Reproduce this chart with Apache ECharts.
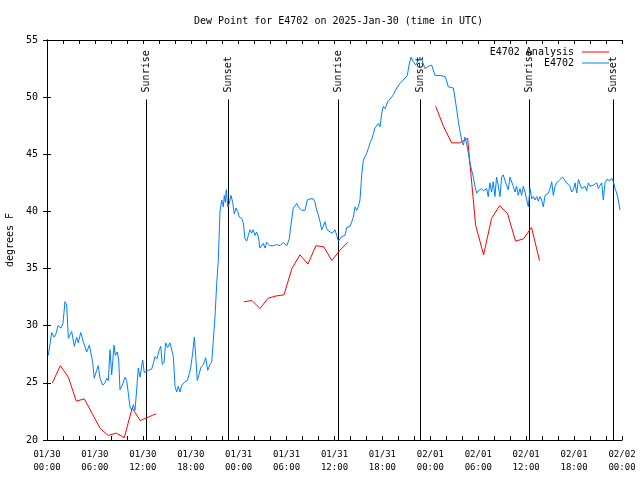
<!DOCTYPE html>
<html><head><meta charset="utf-8">
<script src="https://cdn.jsdelivr.net/npm/echarts@6/dist/echarts.min.js"></script>
<style>html,body{margin:0;padding:0;background:#fff}#c{width:640px;height:480px}</style>
</head><body><div id="c"></div>
<script>
const titleText = 'Dew Point for E4702 on 2025-Jan-30 (time in UTC)';
const yAxisName = 'degrees F';
const xTickDates = ['01/30','01/30','01/30','01/30','01/31','01/31','01/31','01/31','02/01','02/01','02/01','02/01','02/02'];
const xTickTimes = ['00:00','06:00','12:00','18:00','00:00','06:00','12:00','18:00','00:00','06:00','12:00','18:00','00:00'];
const sunNames = ['Sunrise','Sunset','Sunrise','Sunset','Sunrise','Sunset'];
const sunHours = [12.45, 22.68, 36.46, 46.71, 60.38, 70.82];

// E4702 Analysis (hourly, three segments)
const analysisStarts = [0.67, 24.67, 48.67];
const analysisSeg1 = [25.0, 26.5, 25.5, 23.4, 23.6, 22.3, 21.0, 20.4, 20.6, 20.2, 22.8, 21.7, 22.0, 22.3];
const analysisSeg2 = [32.1, 32.2, 31.5, 32.4, 32.6, 32.7, 35.0, 36.2, 35.4, 37.0, 36.9, 35.7, 36.6, 37.3];
const analysisSeg3 = [49.2, 47.4, 46.0, 46.0, 46.4, 38.8, 36.2, 39.4, 40.5, 39.8, 37.4, 37.6, 38.6, 35.7];

// E4702 observations (hours since 01/30 00:00 UTC)
const obsHours = [0.16,0.59,0.88,1.13,1.38,1.75,2.00,2.25,2.47,2.67,2.88,3.09,3.42,3.72,3.92,4.22,4.55,4.97,5.30,5.51,5.72,5.92,6.22,6.42,6.64,6.97,7.26,7.48,7.68,7.89,8.10,8.39,8.55,8.80,8.98,9.14,9.43,9.77,9.98,10.18,10.39,10.61,10.81,11.02,11.23,11.43,11.65,11.98,12.18,12.40,12.68,13.11,13.31,13.52,13.77,14.06,14.24,14.44,14.65,14.86,15.11,15.40,15.61,15.82,16.03,16.24,16.44,16.65,16.87,17.28,17.57,17.78,17.99,18.24,18.45,18.62,18.82,19.03,19.28,19.57,19.87,20.12,20.41,20.62,20.82,21.04,21.25,21.45,21.66,21.88,22.08,22.20,22.33,22.45,22.63,22.83,23.04,23.25,23.45,23.67,23.88,24.08,24.38,24.58,24.79,25.01,25.21,25.42,25.63,25.83,26.04,26.25,26.46,26.67,26.88,27.08,27.30,27.51,27.92,28.34,28.76,29.18,29.59,30.02,30.34,30.52,30.84,31.27,31.47,31.89,32.31,32.59,32.93,33.35,33.56,33.77,33.97,34.19,34.40,34.60,34.81,35.02,35.22,35.44,35.73,36.06,36.28,36.48,36.69,36.90,37.31,37.53,37.94,38.16,38.36,38.57,38.78,38.98,39.19,39.41,39.61,39.82,40.03,40.23,40.45,40.66,40.86,41.07,41.29,41.49,41.70,41.91,42.11,42.32,42.54,42.74,42.95,43.16,43.36,43.58,43.79,43.99,44.20,44.41,44.62,44.83,45.12,45.33,45.58,45.87,46.17,46.49,46.71,46.92,47.12,47.33,47.75,48.17,48.37,48.59,49.21,49.84,50.05,50.25,50.46,50.88,51.09,51.30,51.50,51.72,51.93,52.13,52.34,52.55,52.76,52.97,53.18,53.38,53.59,53.80,54.00,54.21,54.42,54.63,54.84,55.05,55.25,55.46,55.67,55.88,56.09,56.29,56.50,56.72,56.93,57.13,57.34,57.55,57.76,57.97,58.18,58.38,58.60,58.80,59.01,59.22,59.43,59.64,59.86,60.07,60.27,60.48,60.69,60.90,61.11,61.32,61.52,61.73,61.94,62.15,62.36,62.57,62.77,62.99,63.20,63.40,63.61,63.82,64.03,64.24,64.57,64.77,65.07,65.27,65.49,65.70,65.91,66.12,66.33,66.54,66.74,66.95,67.16,67.37,67.58,67.79,68.00,68.21,68.41,68.62,68.84,69.04,69.25,69.46,69.66,69.87,70.09,70.29,70.50,70.71,70.92,71.13,71.34,71.54,71.75];
const obsValues = [27.4,29.4,29.0,29.3,30.0,29.8,30.2,32.1,31.8,28.9,28.8,29.5,28.2,29.0,28.5,29.4,28.6,27.7,28.3,28.3,26.8,25.4,26.1,26.5,25.4,24.8,25.0,25.4,25.2,27.9,25.7,28.3,27.4,27.7,27.0,24.4,24.8,25.5,25.2,24.1,22.9,22.6,23.1,22.6,24.4,26.3,25.5,27.0,25.9,25.8,26.1,26.2,26.7,27.3,27.1,27.9,28.2,26.6,26.8,28.5,28.1,28.5,28.4,27.3,24.7,24.2,24.7,24.2,24.8,25.1,25.2,25.7,26.3,27.6,29.0,27.4,25.2,25.7,26.4,26.6,27.2,26.1,26.6,26.8,28.7,30.8,33.7,35.7,40.0,41.0,40.4,41.4,40.8,41.9,40.4,40.7,41.4,40.8,39.8,40.3,40.0,39.5,39.4,39.0,37.6,37.4,37.9,38.4,38.1,38.4,37.9,38.2,37.8,36.8,36.7,37.2,36.8,37.3,37.0,37.0,37.1,37.0,37.3,37.0,37.6,38.7,40.3,40.7,40.4,40.1,40.1,41.0,41.1,41.1,40.8,40.1,39.7,39.1,38.4,38.7,39.1,38.5,38.3,38.2,38.1,38.4,37.9,37.4,37.5,37.8,37.9,38.6,38.7,39.1,39.5,40.4,40.1,40.4,41.0,43.2,44.5,44.6,45.1,45.5,46.0,46.3,46.8,47.3,47.4,47.7,47.4,48.6,49.2,49.0,49.1,49.7,49.8,50.0,50.2,50.5,50.8,50.8,51.2,51.3,51.5,51.4,51.9,52.8,53.5,53.1,52.8,53.2,53.5,53.3,53.4,52.5,52.7,52.8,52.8,51.9,51.9,51.8,51.4,50.9,50.8,50.8,49.9,48.9,47.9,47.0,46.2,45.8,46.5,45.9,45.1,44.2,43.6,43.0,42.2,41.6,41.8,41.7,42.0,41.8,41.7,42.0,41.3,42.5,41.7,42.6,41.3,43.0,42.3,41.3,43.0,43.2,42.7,42.8,41.9,43.0,43.0,42.2,41.7,42.2,41.4,42.0,41.4,42.2,41.7,41.0,40.4,42.0,41.1,41.3,41.0,41.3,40.9,41.3,41.0,40.4,41.4,41.3,41.6,42.0,42.6,41.4,42.2,42.5,42.6,42.8,43.0,42.8,42.5,42.6,42.2,41.7,41.9,42.5,41.6,42.8,42.7,42.0,41.9,42.2,41.8,42.5,42.2,42.2,42.3,42.2,42.5,42.0,42.3,42.5,41.0,42.5,42.8,42.9,42.7,42.9,42.6,42.0,41.6,41.0,40.1];

const FONT = 'DejaVu Sans Mono';

function buildAnalysis() {
  const segs = [analysisSeg1, analysisSeg2, analysisSeg3];
  const out = [];
  segs.forEach((seg, s) => {
    seg.forEach((v, i) => out.push([analysisStarts[s] + i, v]));
    out.push([analysisStarts[s] + seg.length, '-']);
  });
  return out;
}
const obsData = obsHours.map((h, i) => [h, obsValues[i]]);
const sunData = sunHours.map((h, i) => [h, 20]);

const chart = echarts.init(document.getElementById('c'), null, {renderer: 'canvas'});
const axisCommon = {
  type: 'value', min: 0, max: 72, interval: 2,
  axisLine: {show: true, onZero: false, lineStyle: {color: '#000', width: 1}},
  axisTick: {show: true, inside: true, length: 4, lineStyle: {color: '#000'}},
  splitLine: {show: false}
};
chart.setOption({
  animation: false,
  backgroundColor: '#fff',
  title: {
    text: titleText, left: 189, top: 11,
    textStyle: {fontFamily: FONT, fontSize: 10, fontWeight: 'normal', color: '#000'}
  },
  legend: {
    data: ['E4702 Analysis', 'E4702'],
    orient: 'vertical', align: 'right', right: 26, top: 42,
    itemWidth: 27, itemHeight: 1, itemGap: 1, icon: 'rect',
    textStyle: {fontFamily: FONT, fontSize: 10, color: '#000', padding: [0, 3, 0, 0]}
  },
  grid: {left: 47, right: 18, top: 40, bottom: 40, containLabel: false, outerBoundsMode: 'none'},
  xAxis: [
    Object.assign({}, axisCommon, {
      position: 'bottom',
      axisLabel: {
        show: true, margin: 8, lineHeight: 13,
        fontFamily: FONT, fontSize: 9, color: '#000',
        formatter: v => (v % 6 === 0) ? xTickDates[v / 6] + '\n' + xTickTimes[v / 6] : ''
      }
    }),
    Object.assign({}, axisCommon, {position: 'top', axisLabel: {show: false}})
  ],
  yAxis: [
    {
      type: 'value', min: 20, max: 55, interval: 5, position: 'left',
      name: yAxisName, nameLocation: 'middle', nameGap: 29, nameRotate: 90,
      nameTextStyle: {fontFamily: FONT, fontSize: 10, color: '#000'},
      axisLine: {show: true, lineStyle: {color: '#000', width: 1}},
      axisTick: {show: true, inside: true, length: 4, lineStyle: {color: '#000'}},
      axisLabel: {margin: 9, fontFamily: FONT, fontSize: 10, color: '#000'},
      splitLine: {show: false}
    },
    {
      type: 'value', min: 20, max: 55, interval: 5, position: 'right',
      axisLine: {show: true, lineStyle: {color: '#000', width: 1}},
      axisTick: {show: true, inside: true, length: 4, lineStyle: {color: '#000'}},
      axisLabel: {show: false},
      splitLine: {show: false}
    }
  ],
  series: [
    {
      type: 'custom', name: 'sun', silent: true, z: 1,
      renderItem: (params, api) => {
        const h = api.value(0);
        const p0 = api.coord([h, 20]);
        const p1 = api.coord([h, 49.8]);
        const x = Math.round(p0[0]) + 0.5;
        return {
          type: 'group',
          children: [
            {type: 'line', shape: {x1: x, y1: p0[1], x2: x, y2: p1[1]}, style: {stroke: '#000', lineWidth: 1}},
            {type: 'text', x: x, y: p1[1] - 7, rotation: Math.PI / 2,
             style: {text: sunNames[params.dataIndex], fill: '#000', font: '10px ' + FONT, align: 'left', verticalAlign: 'middle'}}
          ]
        };
      },
      data: sunData
    },
    {
      type: 'line', name: 'E4702 Analysis', data: buildAnalysis(),
      showSymbol: false, symbol: 'none', connectNulls: false,
      lineStyle: {color: '#ff0000', width: 1}, itemStyle: {color: '#ff0000'}, z: 2
    },
    {
      type: 'line', name: 'E4702', data: obsData,
      showSymbol: false, symbol: 'none',
      lineStyle: {color: '#0080ff', width: 1}, itemStyle: {color: '#0080ff'}, z: 3
    }
  ]
});
</script></body></html>
